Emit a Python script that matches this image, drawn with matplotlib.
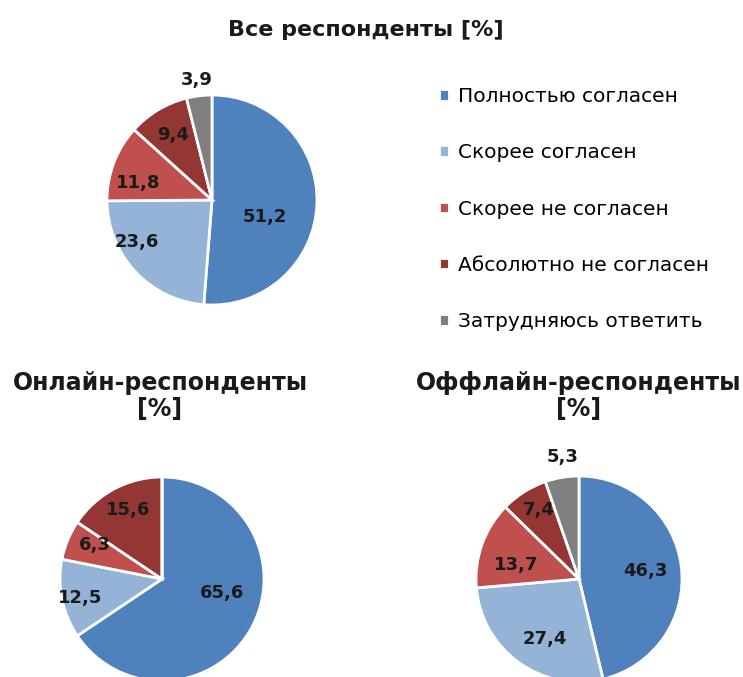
import numpy as np
import matplotlib
matplotlib.use("Agg")
import matplotlib.pyplot as plt

# data
categories = ["Полностью согласен", "Скорее согласен", "Скорее не согласен",
              "Абсолютно не согласен", "Затрудняюсь ответить"]
all_values = [51.2, 23.6, 11.8, 9.4, 3.9]
online_values = [65.6, 12.5, 6.3, 15.6, 0.0]
offline_values = [46.3, 27.4, 13.7, 7.4, 5.3]

titles = ["Все респонденты [%]", "Онлайн-респонденты\n[%]", "Оффлайн-респонденты\n[%]"]

colors = ["#4F81BD", "#95B3D7", "#C0504D", "#943634", "#7F7F7F"]

# label placement tweaks (radius fraction, angle shift in degrees)
all_lab_r = [0.53, 0.82, 0.72, 0.72, 1.15]
all_lab_da = [-16, -14, 8, 0, 0]
on_lab_r = [0.6, 0.82, 0.74, 0.75, 0.0]
on_lab_da = [15, 2, -4, -2, 0]
off_lab_r = [0.65, 0.67, 0.63, 0.78, 1.19]
off_lab_da = [0, 6, 7, -2, -2]

plt.rcParams["font.family"] = ["DejaVu Sans"]

W, H = 743, 677
fig = plt.figure(figsize=(W / 100, H / 100), dpi=100)


def pie_axes(cx, cy, r):
    # cx, cy, r in pixels, y from top
    return fig.add_axes([(cx - r) / W, (H - cy - r) / H, 2 * r / W, 2 * r / H])


def draw_pie(ax, values, lab_r, lab_da):
    wedges, _ = ax.pie(values, colors=colors, startangle=90, counterclock=False,
                       wedgeprops=dict(edgecolor="white", linewidth=2))
    for w, v, rr, da in zip(wedges, values, lab_r, lab_da):
        if v <= 0:
            continue
        ang = np.deg2rad((w.theta1 + w.theta2) / 2 + da)
        txt = f"{v:.1f}".replace(".", ",")
        ax.text(rr * np.cos(ang), rr * np.sin(ang), txt, ha="center", va="center",
                fontsize=13, fontweight="bold", color="#1a1a1a")
    ax.set_xlim(-1, 1)
    ax.set_ylim(-1, 1)
    ax.axis("off")
    return wedges


ax_all = pie_axes(212, 200, 105)
wedges = draw_pie(ax_all, all_values, all_lab_r, all_lab_da)

ax_on = pie_axes(162, 579, 102)
draw_pie(ax_on, online_values, on_lab_r, on_lab_da)

ax_off = pie_axes(579, 579, 103)
draw_pie(ax_off, offline_values, off_lab_r, off_lab_da)

# titles
fig.text(366 / W, 1 - 30 / H, titles[0], ha="center", va="center",
         fontsize=16, fontweight="bold", color="#1a1a1a")
fig.text(160 / W, 1 - 396 / H, titles[1], ha="center", va="center",
         fontsize=17, fontweight="bold", color="#1a1a1a", linespacing=1.1)
fig.text(579 / W, 1 - 396 / H, titles[2], ha="center", va="center",
         fontsize=17, fontweight="bold", color="#1a1a1a", linespacing=1.1)

# legend
fig.legend(wedges, categories, loc="upper left", bbox_to_anchor=(431 / W, 1 - 79 / H),
           frameon=False, fontsize=14.5, handlelength=0.5, handleheight=0.5,
           handletextpad=0.45, labelspacing=1.85, borderaxespad=0)

fig.savefig("out.png", dpi=100, facecolor="white")
